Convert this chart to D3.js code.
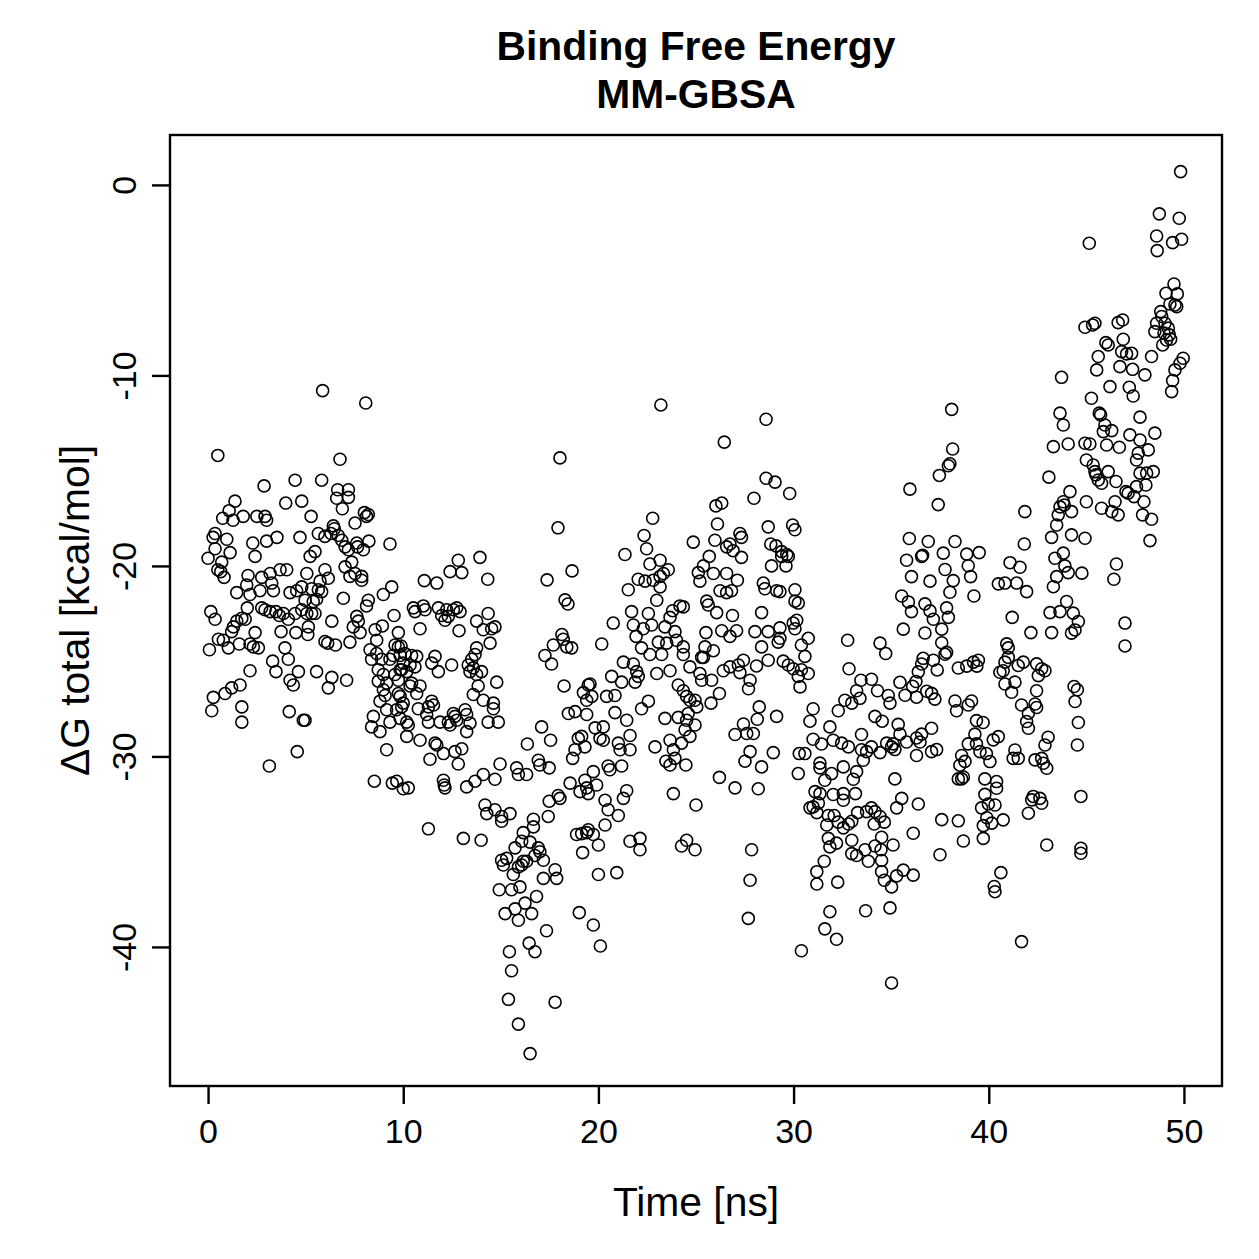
<!DOCTYPE html>
<html>
<head>
<meta charset="utf-8">
<script src="https://cdn.jsdelivr.net/npm/d3@7"></script>
<style>
  body { margin: 0; background: #fff; }
  text { font-family: "Liberation Sans", Arial, Helvetica, sans-serif; fill: #000; }
</style>
</head>
<body>
<div id="chart"></div>
<script>
// Binding free energy (MM-GBSA) per frame as [time ns, dG kcal/mol]
var frames0to5 = [[0.5,-14.2],[4.46,-15.5],[2.87,-15.8],[1.38,-16.6],[3.98,-16.7],[4.8,-16.6],[1.08,-17.1],[1.8,-17.4],[2.5,-17.4],[2.92,-17.4],[3.0,-17.6],[0.75,-17.5],[1.28,-17.6],[0.36,-18.3],[0.26,-18.5],[0.96,-18.6],[2.29,-18.8],[3.0,-18.7],[3.53,-18.5],[4.71,-18.5],[0.36,-19.1],[1.13,-19.3],[0.0,-19.6],[2.41,-19.5],[0.7,-19.8],[0.5,-20.2],[0.65,-20.3],[0.82,-20.6],[2.05,-20.5],[2.75,-20.6],[3.18,-20.4],[3.69,-20.2],[4.03,-20.2],[1.98,-21.0],[3.26,-20.9],[1.47,-21.4],[2.15,-21.5],[2.66,-21.3],[3.35,-21.3],[4.2,-21.4],[4.54,-21.3],[4.8,-21.1],[2.01,-22.2],[2.75,-22.2],[2.92,-22.3],[3.18,-22.4],[3.48,-22.4],[3.65,-22.6],[3.86,-22.5],[4.11,-22.8],[0.14,-22.4],[0.36,-22.8],[1.47,-22.9],[1.73,-22.75],[1.9,-22.8],[1.3,-23.2],[1.21,-23.45],[4.46,-22.5],[4.8,-22.3],[3.74,-23.45],[4.5,-23.5],[2.41,-23.5],[0.53,-23.85],[0.78,-23.9],[1.04,-24.3],[0.07,-24.4],[1.6,-24.1],[2.15,-24.1],[2.32,-24.25],[2.58,-24.3],[3.94,-24.3],[4.11,-24.9],[3.31,-25.0],[3.48,-25.55],[2.15,-25.5],[4.63,-25.55],[4.2,-26.0],[4.37,-26.25],[0.27,-26.9],[0.87,-26.7],[1.21,-26.4],[1.64,-26.25],[0.19,-27.6],[1.73,-27.4],[1.73,-28.2],[4.16,-27.65],[4.88,-28.1],[4.57,-29.75],[3.14,-30.5]];

var frames5to10 = [[5.87,-10.8],[8.08,-11.45],[6.76,-14.4],[5.82,-15.5],[6.64,-16.0],[7.19,-16.0],[6.59,-16.45],[7.19,-16.4],[6.88,-17.0],[8.01,-17.2],[8.12,-17.4],[8.21,-17.3],[5.28,-17.4],[7.53,-17.75],[6.42,-17.9],[6.47,-18.05],[5.65,-18.3],[5.99,-18.45],[6.3,-18.3],[6.67,-18.4],[6.85,-18.65],[7.02,-19.0],[7.19,-19.15],[7.62,-18.8],[7.66,-19.0],[7.96,-19.15],[8.24,-18.7],[9.32,-18.85],[5.48,-19.25],[5.23,-19.5],[7.36,-19.8],[7.02,-20.05],[7.27,-20.55],[7.53,-20.4],[7.87,-20.55],[7.87,-20.75],[5.06,-20.4],[5.99,-20.2],[6.16,-20.65],[5.74,-20.8],[5.31,-21.2],[5.65,-21.25],[5.82,-21.35],[4.97,-21.8],[5.39,-21.87],[5.56,-21.75],[5.06,-22.5],[5.31,-22.5],[5.48,-22.5],[6.93,-21.7],[9.41,-21.1],[8.98,-21.5],[8.21,-21.8],[8.12,-22.1],[9.53,-22.6],[7.62,-22.65],[7.7,-22.9],[7.44,-23.2],[7.79,-23.5],[8.56,-23.35],[8.93,-23.15],[8.64,-23.9],[9.75,-23.5],[9.58,-24.15],[9.89,-24.2],[6.34,-22.9],[5.14,-23.2],[5.11,-23.6],[5.99,-23.97],[6.13,-24.05],[6.53,-24.15],[7.27,-24.0],[8.3,-24.4],[8.38,-24.9],[8.64,-24.6],[8.89,-24.9],[9.32,-24.9],[9.49,-24.7],[8.72,-25.45],[8.98,-25.7],[8.72,-26.05],[9.15,-26.15],[9.58,-25.7],[9.92,-25.45],[9.75,-26.0],[5.56,-25.55],[6.34,-25.85],[6.16,-26.4],[7.1,-26.0],[8.98,-26.5],[9.07,-26.8],[9.75,-26.7],[8.81,-27.1],[9.15,-27.55],[9.66,-27.55],[10.0,-27.2],[9.84,-28.0],[8.47,-27.9],[8.38,-28.45],[8.81,-28.7],[9.15,-29.65],[9.32,-28.2],[4.97,-28.1],[8.52,-31.3],[9.44,-31.4],[10.0,-31.7]];

var frames10to15 = [[13.93,-19.55],[12.82,-19.7],[12.4,-20.3],[13.0,-20.35],[11.08,-20.77],[11.72,-20.9],[14.33,-20.7],[10.52,-22.2],[10.6,-22.4],[11.03,-22.1],[11.12,-22.3],[11.8,-22.2],[11.97,-22.6],[12.14,-22.85],[12.23,-22.3],[12.31,-22.65],[12.57,-22.3],[12.74,-22.2],[12.91,-22.4],[10.86,-23.3],[12.86,-23.4],[13.76,-22.9],[14.35,-22.5],[14.1,-23.35],[14.53,-23.3],[14.7,-23.2],[14.45,-24.05],[9.75,-24.25],[9.84,-24.7],[10.09,-24.6],[10.43,-24.7],[10.69,-24.75],[10.0,-25.1],[10.35,-25.2],[9.84,-25.45],[10.6,-25.3],[10.18,-25.55],[11.63,-24.75],[11.46,-25.1],[11.8,-25.55],[12.48,-25.2],[13.76,-24.3],[13.68,-24.65],[13.51,-24.9],[13.33,-25.2],[13.59,-25.35],[13.42,-25.55],[13.76,-25.7],[14.01,-25.55],[14.79,-26.1],[13.84,-26.3],[13.59,-26.75],[10.43,-26.15],[10.35,-26.3],[10.86,-26.3],[10.69,-26.7],[9.84,-26.85],[9.92,-27.4],[11.46,-27.1],[11.29,-27.4],[11.55,-27.3],[11.2,-27.8],[11.29,-28.2],[10.77,-27.5],[14.1,-27.05],[14.62,-27.2],[14.62,-27.5],[11.89,-28.2],[12.31,-28.2],[12.57,-27.75],[12.65,-27.9],[12.74,-28.1],[13.17,-27.55],[13.25,-27.8],[13.42,-28.25],[12.4,-28.35],[14.35,-28.2],[14.87,-28.2],[10.18,-28.2],[10.26,-28.35],[10.18,-28.95],[10.86,-29.15],[13.25,-28.7],[11.63,-29.3],[11.72,-29.4],[12.06,-29.85],[12.65,-29.75],[13.0,-29.6],[12.82,-30.4],[11.37,-30.15],[14.96,-30.4],[9.67,-31.3],[10.26,-31.65],[12.06,-31.25],[12.1,-31.5],[12.14,-31.65],[13.25,-31.6],[13.68,-31.3],[14.1,-30.95],[14.7,-31.2],[14.19,-32.55],[14.28,-33.0],[14.7,-32.8],[15.04,-33.15],[15.04,-33.4],[11.29,-33.8],[13.08,-34.3],[13.99,-34.4]];

var frames15to20 = [[17.69,-24.15],[18.38,-24.25],[18.63,-24.3],[17.26,-24.7],[17.6,-25.15],[18.24,-26.3],[19.23,-26.65],[19.48,-26.25],[19.4,-27.05],[18.46,-27.75],[18.8,-27.65],[19.4,-27.8],[17.09,-28.45],[17.55,-29.15],[16.36,-29.35],[18.97,-29.05],[18.8,-29.65],[19.31,-29.5],[18.68,-30.1],[15.81,-30.6],[15.9,-30.95],[16.32,-30.95],[16.92,-30.2],[17.0,-30.45],[17.48,-30.6],[18.55,-31.4],[19.06,-31.85],[19.4,-31.65],[19.48,-31.95],[17.48,-32.35],[17.94,-32.05],[18.03,-32.2],[17.43,-33.15],[15.47,-33.0],[16.67,-33.3],[16.67,-33.7],[16.15,-34.0],[18.88,-34.1],[19.14,-34.05],[19.4,-34.0],[19.19,-35.05],[15.73,-34.8],[16.07,-34.45],[16.5,-34.5],[16.92,-34.8],[17.0,-35.0],[17.18,-35.45],[15.04,-35.45],[15.13,-35.7],[15.3,-35.35],[16.15,-35.5],[16.07,-35.7],[16.32,-35.5],[16.75,-35.2],[15.64,-36.2],[15.9,-35.8],[17.18,-36.4],[17.78,-35.95],[17.86,-36.4],[14.92,-37.0],[15.55,-37.0],[15.98,-36.85],[16.83,-37.35],[16.24,-37.7],[16.58,-38.25],[15.22,-38.25],[15.73,-38.0],[15.9,-38.6],[19.02,-38.2],[17.34,-39.15],[16.45,-39.8],[16.75,-40.25],[15.44,-40.25],[15.55,-41.25],[15.39,-42.75],[17.78,-42.9],[15.9,-44.05],[16.5,-45.6],[18.03,-14.33],[17.93,-18.0],[18.65,-20.26],[17.37,-20.73],[18.29,-21.78],[18.44,-22.0],[18.13,-23.6],[18.2,-23.85],[20.1,-39.95],[19.74,-38.85]];

var frames20to25 = [[22.78,-17.5],[22.34,-18.4],[22.47,-19.1],[21.36,-19.4],[22.64,-19.9],[23.16,-19.7],[23.58,-20.2],[22.04,-20.7],[22.39,-20.8],[22.81,-20.75],[23.16,-20.55],[23.33,-20.4],[23.16,-21.1],[21.53,-21.25],[22.99,-21.8],[24.18,-22.1],[23.8,-22.35],[23.67,-22.7],[21.7,-22.4],[22.56,-22.5],[20.76,-23.0],[21.79,-23.1],[22.73,-23.1],[22.3,-23.3],[23.41,-23.2],[23.92,-23.45],[24.0,-23.9],[21.93,-23.7],[23.07,-24.0],[23.5,-24.05],[20.17,-24.1],[22.21,-24.3],[22.64,-24.65],[23.24,-24.65],[24.35,-24.65],[24.69,-25.3],[21.28,-25.05],[21.79,-25.15],[21.96,-25.55],[22.04,-25.8],[21.88,-26.1],[22.99,-25.65],[23.67,-25.5],[19.57,-26.2],[19.66,-26.85],[20.68,-25.8],[21.19,-26.1],[20.42,-26.85],[20.85,-26.8],[24.09,-26.25],[24.35,-26.55],[24.52,-26.85],[24.09,-27.95],[24.52,-28.1],[22.21,-27.5],[22.56,-27.1],[20.85,-27.7],[21.45,-28.1],[23.41,-28.0],[19.83,-28.5],[20.25,-28.45],[20.08,-29.05],[20.25,-29.15],[21.62,-28.9],[21.02,-29.3],[21.11,-29.65],[21.62,-29.65],[19.14,-28.95],[22.9,-29.5],[23.67,-29.15],[24.26,-29.3],[23.84,-29.65],[23.46,-30.25],[23.67,-30.45],[23.92,-30.1],[24.48,-30.45],[20.5,-30.5],[20.59,-30.7],[21.19,-30.5],[19.74,-30.8],[19.31,-31.25],[19.91,-31.5],[21.45,-31.8],[21.28,-32.2],[20.34,-32.3],[20.5,-32.8],[21.02,-33.1],[20.34,-33.6],[23.84,-31.95],[19.48,-33.85],[19.74,-34.1],[20.0,-34.65],[21.62,-34.45],[22.13,-34.3],[22.13,-34.9],[24.26,-34.7],[24.52,-34.4],[20.0,-36.2],[20.94,-36.1],[23.2,-11.55]];

var frames25to30 = [[28.59,-12.3],[26.45,-13.5],[28.59,-15.4],[29.05,-15.6],[29.8,-16.2],[27.97,-16.45],[26.02,-16.85],[26.32,-16.7],[26.1,-17.8],[28.7,-17.95],[29.95,-17.85],[30.07,-18.1],[27.25,-18.3],[27.33,-18.5],[24.86,-18.75],[25.97,-18.65],[26.74,-18.85],[26.57,-19.0],[26.9,-19.2],[27.33,-19.55],[28.83,-18.85],[29.1,-18.95],[29.39,-19.25],[29.65,-19.4],[29.39,-19.5],[29.73,-19.5],[29.61,-20.0],[25.68,-19.5],[28.87,-20.0],[25.38,-20.0],[25.12,-20.35],[25.2,-20.8],[25.89,-20.4],[26.57,-20.4],[27.12,-20.75],[26.23,-21.3],[26.57,-21.4],[26.82,-21.3],[28.45,-20.9],[28.53,-21.2],[29.13,-21.3],[29.3,-21.35],[30.07,-21.25],[24.35,-22.15],[25.55,-21.85],[25.63,-22.05],[26.06,-22.45],[26.87,-22.6],[28.36,-22.45],[30.07,-21.85],[25.51,-23.5],[26.32,-23.4],[26.74,-23.7],[27.08,-23.4],[28.02,-23.45],[28.7,-23.45],[29.3,-23.8],[29.3,-23.25],[29.98,-23.0],[30.16,-22.85],[30.07,-23.3],[25.89,-24.45],[25.46,-24.25],[25.38,-24.8],[25.29,-24.8],[24.35,-24.25],[25.2,-25.65],[25.29,-26.0],[25.8,-26.0],[26.4,-25.5],[26.74,-25.3],[27.17,-25.2],[27.43,-24.95],[27.25,-25.6],[27.77,-26.0],[27.69,-26.45],[28.1,-25.25],[28.36,-24.25],[28.7,-24.95],[29.21,-24.0],[29.47,-25.0],[29.73,-25.2],[29.98,-25.4],[30.24,-25.8],[24.69,-27.05],[24.95,-27.05],[25.04,-27.4],[24.6,-27.75],[24.95,-28.35],[24.44,-28.6],[24.69,-28.95],[25.77,-27.2],[26.2,-26.7],[28.24,-27.4],[28.14,-28.05],[29.13,-27.9],[27.43,-28.3],[27.0,-28.85],[27.6,-28.8],[27.94,-28.8],[27.77,-29.75],[27.51,-30.25],[28.36,-30.55],[28.96,-29.8],[26.2,-31.1],[27.0,-31.65],[28.19,-31.7],[25.0,-32.55],[24.95,-34.9],[27.85,-34.9],[27.77,-36.5],[27.68,-38.5],[30.29,-29.85],[30.24,-30.9]];

var frames30to35 = [[30.24,-21.95],[30.75,-23.8],[30.4,-24.15],[30.58,-24.75],[30.4,-25.45],[30.75,-25.65],[30.33,-26.35],[32.77,-23.9],[34.43,-24.05],[34.72,-24.6],[32.84,-25.4],[33.45,-26.0],[33.99,-25.95],[34.3,-26.55],[34.85,-26.8],[34.94,-27.2],[33.23,-26.55],[32.63,-27.05],[32.98,-27.2],[33.4,-26.95],[32.29,-27.6],[31.0,-27.5],[30.84,-28.15],[34.17,-27.9],[34.54,-28.15],[31.86,-28.45],[33.48,-28.85],[31.0,-29.1],[31.43,-29.35],[32.03,-29.15],[32.46,-29.3],[32.81,-29.5],[33.48,-29.65],[33.74,-29.75],[33.99,-29.5],[34.43,-29.8],[34.77,-29.3],[35.02,-29.5],[30.58,-29.85],[31.35,-30.35],[31.35,-30.6],[31.6,-31.25],[31.95,-30.9],[32.55,-30.55],[33.23,-30.8],[33.57,-30.2],[33.06,-31.2],[33.17,-31.95],[32.55,-31.95],[32.55,-32.3],[32.03,-32.0],[31.35,-31.95],[31.1,-31.85],[31.27,-32.45],[31.0,-32.65],[30.84,-32.7],[31.19,-32.95],[33.74,-32.9],[33.99,-32.7],[34.17,-32.9],[34.43,-33.15],[34.65,-33.45],[34.13,-33.55],[33.28,-32.95],[31.78,-33.1],[32.08,-33.1],[32.29,-33.45],[32.55,-33.75],[32.81,-33.55],[32.98,-33.4],[31.7,-33.6],[31.78,-34.3],[31.86,-34.75],[32.2,-34.55],[32.98,-34.4],[32.98,-35.1],[33.23,-35.2],[33.66,-34.9],[33.83,-35.5],[34.17,-34.7],[34.48,-34.9],[34.51,-36.05],[34.65,-36.5],[31.57,-35.5],[31.19,-36.05],[31.19,-36.7],[32.26,-36.6],[35.02,-36.85],[34.94,-37.95],[31.86,-38.15],[33.69,-38.1],[31.6,-39.05],[32.2,-39.6],[30.4,-40.2]];

var frames35to40 = [[38.1,-11.78],[38.15,-13.86],[38.01,-14.64],[37.93,-14.74],[37.47,-15.25],[35.96,-15.97],[37.41,-16.78],[35.93,-18.56],[36.9,-18.72],[36.61,-19.44],[36.56,-19.5],[37.67,-19.33],[38.27,-18.72],[38.87,-19.38],[39.51,-19.3],[38.95,-19.99],[35.79,-19.7],[37.76,-20.19],[38.18,-20.77],[36.04,-20.56],[36.99,-20.8],[39.07,-20.56],[39.24,-21.58],[38.01,-21.38],[35.54,-21.58],[35.88,-21.89],[36.04,-22.4],[36.73,-21.99],[36.99,-22.36],[37.16,-22.8],[37.84,-22.2],[37.93,-22.7],[37.59,-23.32],[36.73,-23.52],[35.62,-23.32],[37.59,-24.03],[37.84,-24.54],[37.76,-24.64],[36.64,-24.85],[37.16,-24.95],[37.36,-25.46],[36.56,-25.15],[36.39,-25.56],[36.27,-26.07],[36.1,-26.32],[35.45,-26.11],[35.71,-26.79],[36.3,-26.89],[36.82,-26.58],[37.07,-26.69],[37.24,-26.99],[38.44,-25.36],[38.87,-25.26],[39.22,-25.05],[39.47,-24.95],[39.39,-25.26],[38.27,-27.09],[38.35,-27.6],[38.95,-27.3],[39.12,-27.09],[35.36,-28.32],[35.45,-28.83],[35.1,-29.34],[35.19,-29.64],[35.79,-29.24],[36.3,-29.03],[36.56,-28.83],[36.48,-29.24],[37.07,-28.52],[37.07,-29.75],[37.33,-29.64],[36.3,-29.95],[39.37,-28.12],[39.71,-28.22],[39.29,-28.83],[38.95,-29.34],[39.37,-29.34],[39.55,-29.75],[39.88,-29.85],[38.61,-29.95],[38.78,-30.26],[38.52,-30.46],[38.44,-31.18],[38.61,-31.18],[38.7,-31.08],[39.8,-31.18],[39.8,-31.99],[39.98,-32.5],[35.19,-31.18],[35.54,-32.2],[35.28,-32.7],[36.39,-32.5],[37.59,-33.32],[38.44,-33.38],[38.7,-34.44],[39.63,-32.7],[39.9,-33.22],[39.72,-33.63],[34.51,-34.24],[35.1,-34.65],[36.13,-34.03],[34.51,-35.46],[35.28,-36.27],[35.62,-35.97],[36.13,-36.23],[37.5,-35.16],[35.02,-41.89]];

var frames40to45 = [[43.31,-13.74],[44.07,-13.6],[44.93,-13.56],[45.0,-14.44],[43.08,-15.34],[44.16,-16.1],[43.82,-16.63],[43.65,-16.9],[43.56,-17.32],[43.48,-17.85],[44.24,-17.15],[43.87,-16.8],[45.0,-16.63],[41.85,-17.15],[43.22,-18.5],[44.24,-18.37],[44.93,-18.55],[41.82,-18.85],[43.82,-19.33],[43.39,-19.6],[43.9,-20.0],[44.07,-20.35],[43.48,-20.56],[43.31,-21.09],[44.77,-20.38],[41.09,-19.83],[41.6,-20.07],[40.49,-20.94],[40.83,-20.9],[41.43,-20.9],[41.94,-21.35],[43.99,-21.87],[44.33,-22.48],[44.59,-22.92],[44.42,-23.36],[44.24,-23.53],[43.65,-22.4],[43.14,-22.45],[43.22,-23.5],[41.2,-22.7],[42.16,-23.5],[40.92,-24.09],[41.0,-24.3],[41.0,-24.8],[40.83,-25.05],[40.74,-25.5],[40.57,-25.58],[40.83,-26.2],[41.17,-26.63],[41.34,-26.1],[41.51,-25.23],[41.77,-25.05],[42.45,-25.14],[42.71,-25.4],[42.88,-25.5],[42.54,-25.76],[42.45,-26.55],[41.68,-27.3],[42.37,-27.25],[42.45,-27.43],[44.37,-26.33],[44.54,-26.5],[44.42,-27.12],[42.03,-27.73],[41.94,-28.17],[42.03,-28.52],[44.59,-28.22],[40.23,-29.13],[40.49,-28.96],[40.06,-30.27],[41.34,-29.66],[41.51,-30.1],[41.25,-30.1],[43.04,-28.99],[42.88,-29.4],[42.37,-30.18],[42.71,-30.1],[42.8,-30.36],[42.97,-30.62],[44.54,-29.4],[40.4,-31.32],[40.4,-31.67],[40.32,-32.55],[40.15,-33.5],[40.74,-33.33],[39.72,-34.3],[42.03,-32.98],[42.2,-32.28],[42.62,-32.2],[42.71,-32.46],[42.28,-32.1],[42.97,-34.65],[44.72,-32.1],[44.72,-34.82],[44.72,-35.08],[40.62,-36.1],[40.28,-36.83],[40.32,-37.1],[41.68,-39.72]];

var frames45to50 = [[49.83,0.7],[48.74,-1.52],[49.76,-1.75],[45.15,-3.06],[48.6,-2.68],[48.63,-3.45],[49.42,-3.03],[49.88,-2.85],[49.49,-5.2],[49.08,-5.69],[49.66,-5.72],[49.28,-6.25],[49.63,-6.39],[49.54,-6.3],[48.81,-6.65],[48.6,-7.26],[48.51,-7.7],[48.86,-6.91],[49.03,-7.26],[49.2,-7.52],[48.98,-7.78],[49.25,-7.87],[49.11,-8.14],[48.91,-8.4],[49.32,-8.1],[44.93,-7.47],[45.32,-7.35],[45.44,-7.26],[46.63,-7.23],[46.86,-7.09],[46.0,-8.28],[46.12,-8.4],[46.89,-8.1],[46.81,-8.75],[47.06,-8.87],[47.32,-8.84],[48.34,-9.01],[45.61,-9.01],[45.53,-9.71],[46.72,-9.54],[47.37,-9.68],[48.0,-9.97],[49.96,-9.1],[49.8,-9.36],[49.54,-9.71],[49.42,-10.27],[49.37,-10.85],[43.73,-10.1],[46.21,-10.59],[47.2,-10.62],[47.4,-11.08],[45.26,-11.2],[43.65,-11.98],[43.82,-12.6],[45.66,-11.98],[45.73,-12.07],[45.95,-12.6],[45.87,-12.95],[46.3,-12.9],[47.75,-12.19],[45.18,-13.6],[46.04,-13.65],[46.69,-13.77],[47.23,-13.12],[47.75,-13.39],[48.51,-13.03],[48.17,-13.91],[47.66,-14.08],[47.57,-14.44],[45.35,-14.7],[45.44,-15.05],[45.61,-15.49],[45.78,-15.66],[46.12,-15.05],[46.52,-15.57],[45.49,-15.22],[47.75,-15.13],[48.09,-15.13],[48.43,-15.05],[48.05,-15.75],[47.57,-15.84],[47.03,-16.1],[47.14,-16.18],[47.44,-16.36],[45.78,-16.97],[46.3,-17.15],[46.47,-16.63],[46.63,-17.32],[47.95,-16.63],[47.88,-17.32],[48.34,-17.55],[48.26,-18.67],[46.54,-19.9],[46.41,-20.7],[46.98,-23.0],[46.98,-24.2]];

var xTicks = [0, 10, 20, 30, 40, 50];
var yTicks = [0, -10, -20, -30, -40];

var allFrames = [].concat(frames0to5, frames5to10, frames10to15, frames15to20, frames20to25,
    frames25to30, frames30to35, frames35to40, frames40to45, frames45to50);

var svgWidth = 1259;
var svgHeight = 1259;

// plot box in page pixels
var box = { left: 170, right: 1222, top: 135, bottom: 1086 };

var svg = d3.select("#chart")
    .append("svg")
    .attr("width", svgWidth)
    .attr("height", svgHeight);

var xScale = d3.scaleLinear()
    .domain([-1.95, 51.95])
    .range([box.left, box.right]);

var yScale = d3.scaleLinear()
    .domain([-47.3, 2.62])
    .range([box.bottom, box.top]);

// axes, R style: outward ticks, labels parallel to the axis
var bottomAxis = d3.axisBottom(xScale)
    .tickValues(xTicks)
    .tickSize(18)
    .tickFormat(d => String(d));

var gx = svg.append("g")
    .attr("transform", `translate(0, ${box.bottom})`)
    .call(bottomAxis);
gx.select(".domain").remove();
gx.selectAll(".tick line").attr("stroke", "#000").attr("stroke-width", 2.4);
gx.selectAll(".tick text")
    .attr("y", 57)
    .attr("dy", null)
    .style("font-size", "34px");

var leftAxis = d3.axisLeft(yScale)
    .tickValues(yTicks)
    .tickSize(18)
    .tickFormat(d => String(d));

var gy = svg.append("g")
    .attr("transform", `translate(${box.left}, 0)`)
    .call(leftAxis);
gy.select(".domain").remove();
gy.selectAll(".tick line").attr("stroke", "#000").attr("stroke-width", 2.4);
gy.selectAll(".tick text")
    .attr("transform", "rotate(-90)")
    .attr("x", 0)
    .attr("y", -34)
    .attr("dy", null)
    .attr("text-anchor", "middle")
    .style("font-size", "34px");

// the points
svg.append("g").selectAll("circle")
    .data(allFrames)
    .enter()
    .append("circle")
    .attr("cx", d => xScale(d[0]))
    .attr("cy", d => yScale(d[1]))
    .attr("r", 6)
    .attr("fill", "none")
    .attr("stroke", "#000")
    .attr("stroke-width", 1.6);

// frame
svg.append("rect")
    .attr("x", box.left)
    .attr("y", box.top)
    .attr("width", box.right - box.left)
    .attr("height", box.bottom - box.top)
    .attr("fill", "none")
    .attr("stroke", "#000")
    .attr("stroke-width", 2.4);

// titles and labels
var midX = (box.left + box.right) / 2;
var midY = (box.top + box.bottom) / 2;

svg.append("text")
    .attr("x", midX).attr("y", 60)
    .attr("text-anchor", "middle")
    .style("font-size", "40.8px").style("font-weight", "bold")
    .text("Binding Free Energy");

svg.append("text")
    .attr("x", midX).attr("y", 108)
    .attr("text-anchor", "middle")
    .style("font-size", "40.8px").style("font-weight", "bold")
    .text("MM-GBSA");

svg.append("text")
    .attr("x", midX).attr("y", 1216)
    .attr("text-anchor", "middle")
    .style("font-size", "40.8px")
    .text("Time [ns]");

svg.append("text")
    .attr("transform", `translate(89, ${midY}) rotate(-90)`)
    .attr("text-anchor", "middle")
    .style("font-size", "40.8px")
    .text("ΔG total [kcal/mol]");
</script>
</body>
</html>
